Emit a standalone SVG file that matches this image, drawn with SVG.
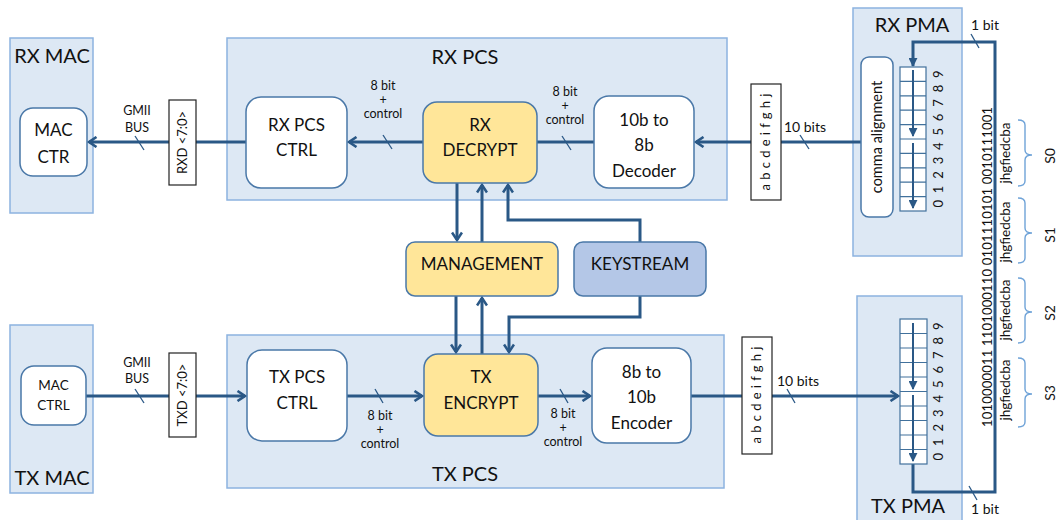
<svg xmlns="http://www.w3.org/2000/svg" width="1062" height="520" viewBox="0 0 1062 520">
  <style>
    text { font-family: Lato, "Open Sans", "Liberation Sans", sans-serif; fill: #111; }
    .panel { fill: #dde8f4; stroke: #8cb3e0; stroke-width: 1.5; }
    .node { fill: #ffffff; stroke: #4a78a8; stroke-width: 1.5; }
    .yellow { fill: #ffe699; stroke: #4a78a8; stroke-width: 1.5; }
    .blue { fill: #b4c7e7; stroke: #4a78a8; stroke-width: 1.5; }
    .tag { fill: #ffffff; stroke: #222; stroke-width: 1.2; }
    .wire { fill: none; stroke: #2a5886; stroke-width: 3; }
    .thin { fill: none; stroke: #2a5886; stroke-width: 2; }
    .slash { stroke: #2a5886; stroke-width: 1.3; }
    .cell { fill: #ffffff; stroke: #41719c; stroke-width: 1.2; }
    .brace { fill: none; stroke: #6fa3d8; stroke-width: 1.4; }
    .title { font-size: 20px; text-anchor: middle; }
    .lbl { font-size: 17px; text-anchor: middle; }
    .small { font-size: 14px; text-anchor: middle; }
    .stack { font-size: 12.5px; text-anchor: middle; }
    .tiny { font-size: 12.5px; text-anchor: middle; }
  </style>
  <defs>
    <marker id="chev" viewBox="0 0 12 12" refX="10" refY="6" markerWidth="12" markerHeight="12" markerUnits="userSpaceOnUse" orient="auto">
      <path d="M2.5,1 L10,6 L2.5,11" fill="none" stroke="#2a5886" stroke-width="2.6"/>
    </marker>
    <marker id="tri" viewBox="0 0 10 10" refX="9" refY="5" markerWidth="9" markerHeight="9" markerUnits="userSpaceOnUse" orient="auto">
      <path d="M0,0 L10,5 L0,10 Z" fill="#2a5886"/>
    </marker>
  </defs>

  <!-- panels -->
  <g id="rx-mac">
    <rect class="panel" x="10" y="38" width="83" height="175"/>
    <text class="title" x="52" y="63">RX MAC</text>
  </g>
  <g id="tx-mac">
    <rect class="panel" x="10" y="325" width="83" height="168"/>
    <text class="title" x="52" y="485">TX MAC</text>
  </g>
  <g id="rx-pcs">
    <rect class="panel" x="227" y="38" width="500" height="162"/>
    <text class="title" x="465" y="64">RX PCS</text>
  </g>
  <g id="tx-pcs">
    <rect class="panel" x="227" y="335" width="497" height="153"/>
    <text class="title" x="465" y="481">TX PCS</text>
  </g>
  <g id="rx-pma">
    <rect class="panel" x="853" y="8" width="109" height="248"/>
    <text class="title" x="912" y="32">RX PMA</text>
  </g>
  <g id="tx-pma">
    <rect class="panel" x="857" y="296" width="105" height="230"/>
    <text class="title" x="908" y="513">TX PMA</text>
  </g>

  <!-- connectors -->
  <g id="connectors">
    <!-- receive path -->
    <line class="wire" x1="861" y1="142" x2="696" y2="142" marker-end="url(#chev)"/>
    <line class="wire" x1="594" y1="142" x2="537" y2="142"/>
    <line class="wire" x1="423" y1="142" x2="349" y2="142" marker-end="url(#chev)"/>
    <line class="wire" x1="246" y1="142" x2="89" y2="142" marker-end="url(#chev)"/>
    <!-- transmit path -->
    <line class="wire" x1="86" y1="396" x2="245" y2="396" marker-end="url(#chev)"/>
    <line class="wire" x1="347" y1="396" x2="422" y2="396" marker-end="url(#chev)"/>
    <line class="wire" x1="538" y1="396" x2="590" y2="396" marker-end="url(#chev)"/>
    <line class="wire" x1="691" y1="396" x2="898" y2="396" marker-end="url(#chev)"/>
    <!-- management / keystream -->
    <line class="wire" x1="457" y1="183" x2="457" y2="240" marker-end="url(#chev)"/>
    <line class="wire" x1="482" y1="242" x2="482" y2="185" marker-end="url(#chev)"/>
    <path class="wire" d="M640,242 V220 H508 V185" marker-end="url(#chev)"/>
    <line class="wire" x1="456" y1="296" x2="456" y2="352" marker-end="url(#chev)"/>
    <line class="wire" x1="482" y1="354" x2="482" y2="298" marker-end="url(#chev)"/>
    <path class="wire" d="M640,296 V317 H509 V352" marker-end="url(#chev)"/>
    <!-- serial loop -->
    <path class="wire" d="M913,464 V492 H995 V42 H913 V66" marker-end="url(#tri)"/>
    <!-- width slashes -->
    <line class="slash" x1="135" y1="136" x2="144" y2="150"/>
    <line class="slash" x1="383" y1="135" x2="392" y2="149"/>
    <line class="slash" x1="562" y1="136" x2="571" y2="150"/>
    <line class="slash" x1="800" y1="135" x2="809" y2="149"/>
    <line class="slash" x1="135" y1="389" x2="144" y2="403"/>
    <line class="slash" x1="375" y1="389" x2="383" y2="403"/>
    <line class="slash" x1="560" y1="389" x2="568" y2="403"/>
    <line class="slash" x1="787" y1="389" x2="795" y2="403"/>
    <line class="slash" x1="971" y1="34" x2="979" y2="48"/>
    <line class="slash" x1="969" y1="486" x2="977" y2="500"/>
  </g>

  <!-- connector labels -->
  <g id="labels">
    <text class="tiny" x="137" y="115">GMII<tspan x="137" dy="17">BUS</tspan></text>
    <text class="tiny" x="137" y="367">GMII<tspan x="137" dy="16">BUS</tspan></text>
    <text class="stack" x="383" y="90">8 bit<tspan x="383" dy="14">+</tspan><tspan x="383" dy="14">control</tspan></text>
    <text class="stack" x="565" y="96">8 bit<tspan x="565" dy="14">+</tspan><tspan x="565" dy="14">control</tspan></text>
    <text class="stack" x="380" y="420">8 bit<tspan x="380" dy="14">+</tspan><tspan x="380" dy="14">control</tspan></text>
    <text class="stack" x="563" y="418">8 bit<tspan x="563" dy="14">+</tspan><tspan x="563" dy="14">control</tspan></text>
    <text class="small" x="805" y="132">10 bits</text>
    <text class="small" x="798" y="386">10 bits</text>
    <text class="small" x="985" y="30">1 bit</text>
    <text class="small" x="985" y="514">1 bit</text>
  </g>

  <!-- bus tags -->
  <g id="rxd-tag">
    <rect class="tag" x="169" y="100" width="27" height="85"/>
    <text font-size="13" text-anchor="middle" transform="translate(187,142.5) rotate(-90)">RXD &lt;7:0&gt;</text>
  </g>
  <g id="txd-tag">
    <rect class="tag" x="169" y="353" width="27" height="84"/>
    <text font-size="13" text-anchor="middle" transform="translate(187,395) rotate(-90)">TXD &lt;7:0&gt;</text>
  </g>
  <g id="rx-symbol-tag">
    <rect class="tag" x="751" y="84" width="30" height="116"/>
    <text font-size="13" text-anchor="middle" textLength="97" lengthAdjust="spacing" transform="translate(770,142) rotate(-90)">a b c d e i f g h j</text>
  </g>
  <g id="tx-symbol-tag">
    <rect class="tag" x="742" y="337" width="30" height="117"/>
    <text font-size="13" text-anchor="middle" textLength="97" lengthAdjust="spacing" transform="translate(761,395) rotate(-90)">a b c d e i f g h j</text>
  </g>

  <!-- nodes -->
  <g id="mac-ctr">
    <rect class="node" x="20" y="108" width="67" height="68" rx="13"/>
    <text class="lbl" x="53.5" y="136">MAC<tspan x="53.5" dy="27">CTR</tspan></text>
  </g>
  <g id="mac-ctrl">
    <rect class="node" x="21" y="366" width="65" height="59" rx="13"/>
    <text font-size="13.5" text-anchor="middle" x="53.5" y="390">MAC<tspan x="53.5" dy="20">CTRL</tspan></text>
  </g>
  <g id="rx-pcs-ctrl">
    <rect class="node" x="246" y="97" width="101" height="91" rx="15"/>
    <text class="lbl" x="296.5" y="131">RX PCS<tspan x="296.5" dy="25">CTRL</tspan></text>
  </g>
  <g id="rx-decrypt">
    <rect class="yellow" x="423" y="102" width="114" height="81" rx="14"/>
    <text class="lbl" x="480" y="131">RX<tspan x="480" dy="25">DECRYPT</tspan></text>
  </g>
  <g id="decoder">
    <rect class="node" x="594" y="96" width="100" height="92" rx="15"/>
    <text class="lbl" x="644" y="126">10b to<tspan x="644" dy="25">8b</tspan><tspan x="644" dy="26">Decoder</tspan></text>
  </g>
  <g id="tx-pcs-ctrl">
    <rect class="node" x="247" y="350" width="100" height="91" rx="15"/>
    <text class="lbl" x="297" y="383">TX PCS<tspan x="297" dy="26">CTRL</tspan></text>
  </g>
  <g id="tx-encrypt">
    <rect class="yellow" x="424" y="354" width="114" height="82" rx="14"/>
    <text class="lbl" x="481" y="383">TX<tspan x="481" dy="26">ENCRYPT</tspan></text>
  </g>
  <g id="encoder">
    <rect class="node" x="592" y="348" width="99" height="95" rx="15"/>
    <text class="lbl" x="641.5" y="378">8b to<tspan x="641.5" dy="25">10b</tspan><tspan x="641.5" dy="26">Encoder</tspan></text>
  </g>
  <g id="management">
    <rect class="yellow" x="406" y="242" width="152" height="54" rx="9"/>
    <text class="lbl" x="482" y="270">MANAGEMENT</text>
  </g>
  <g id="keystream">
    <rect class="blue" x="574" y="242" width="132" height="54" rx="9"/>
    <text class="lbl" x="640" y="270">KEYSTREAM</text>
  </g>
  <g id="comma-alignment">
    <rect class="node" x="861" y="57" width="32" height="160" rx="8"/>
    <text font-size="14.5" text-anchor="middle" transform="translate(882,137) rotate(-90)">comma alignment</text>
  </g>

  <!-- receive shift register, bit 9 at top -->
  <g id="rx-register">
    <rect class="cell" x="900" y="67" width="26" height="144"/>
    <path class="cell" d="M900,81.4 H926 M900,95.8 H926 M900,110.2 H926 M900,124.6 H926 M900,139 H926 M900,153.4 H926 M900,167.8 H926 M900,182.2 H926 M900,196.6 H926"/>
    <line class="thin" x1="913" y1="70" x2="913" y2="136" marker-end="url(#tri)"/>
    <line class="thin" x1="913" y1="143" x2="913" y2="208" marker-end="url(#tri)"/>
    <g font-size="13" text-anchor="middle">
      <text transform="translate(943,74.2) rotate(-90)">9</text>
      <text transform="translate(943,88.6) rotate(-90)">8</text>
      <text transform="translate(943,103) rotate(-90)">7</text>
      <text transform="translate(943,117.4) rotate(-90)">6</text>
      <text transform="translate(943,131.8) rotate(-90)">5</text>
      <text transform="translate(943,146.2) rotate(-90)">4</text>
      <text transform="translate(943,160.6) rotate(-90)">3</text>
      <text transform="translate(943,175) rotate(-90)">2</text>
      <text transform="translate(943,189.4) rotate(-90)">1</text>
      <text transform="translate(943,203.8) rotate(-90)">0</text>
    </g>
  </g>

  <!-- transmit shift register, bit 9 at top -->
  <g id="tx-register">
    <rect class="cell" x="900" y="319" width="27" height="145"/>
    <path class="cell" d="M900,333.5 H927 M900,348 H927 M900,362.5 H927 M900,377 H927 M900,391.5 H927 M900,406 H927 M900,420.5 H927 M900,435 H927 M900,449.5 H927"/>
    <line class="thin" x1="913" y1="323" x2="913" y2="389" marker-end="url(#tri)"/>
    <line class="thin" x1="913" y1="395" x2="913" y2="461" marker-end="url(#tri)"/>
    <g font-size="13" text-anchor="middle">
      <text transform="translate(943,326.3) rotate(-90)">9</text>
      <text transform="translate(943,340.8) rotate(-90)">8</text>
      <text transform="translate(943,355.3) rotate(-90)">7</text>
      <text transform="translate(943,369.8) rotate(-90)">6</text>
      <text transform="translate(943,384.3) rotate(-90)">5</text>
      <text transform="translate(943,398.8) rotate(-90)">4</text>
      <text transform="translate(943,413.3) rotate(-90)">3</text>
      <text transform="translate(943,427.8) rotate(-90)">2</text>
      <text transform="translate(943,442.3) rotate(-90)">1</text>
      <text transform="translate(943,456.8) rotate(-90)">0</text>
    </g>
  </g>

  <!-- serial bit stream and symbol grouping -->
  <g id="bitstream">
    <text font-size="13" text-anchor="middle" textLength="320" lengthAdjust="spacing" transform="translate(992,267) rotate(-90)">1010000011 1101000110 0101110101 0010111001</text>
    <g font-size="13.5" text-anchor="middle">
      <text transform="translate(1010,153) rotate(-90)">jhgfiedcba</text>
      <text transform="translate(1010,232) rotate(-90)">jhgfiedcba</text>
      <text transform="translate(1010,310) rotate(-90)">jhgfiedcba</text>
      <text transform="translate(1010,390) rotate(-90)">jhgfiedcba</text>
    </g>
    <path class="brace" d="M1018,120 Q1025,120 1025,125 V150 Q1025,155 1032,155 Q1025,155 1025,160 V181 Q1025,186 1018,186"/>
    <path class="brace" d="M1018,198 Q1025,198 1025,203 V228 Q1025,233 1032,233 Q1025,233 1025,238 V258 Q1025,263 1018,263"/>
    <path class="brace" d="M1018,278 Q1025,278 1025,283 V307 Q1025,312 1032,312 Q1025,312 1025,317 V338 Q1025,343 1018,343"/>
    <path class="brace" d="M1018,358 Q1025,358 1025,363 V389 Q1025,394 1032,394 Q1025,394 1025,399 V422 Q1025,427 1018,427"/>
    <g font-size="14" text-anchor="middle">
      <text transform="translate(1055,156) rotate(-90)">S0</text>
      <text transform="translate(1055,235) rotate(-90)">S1</text>
      <text transform="translate(1055,313) rotate(-90)">S2</text>
      <text transform="translate(1055,393) rotate(-90)">S3</text>
    </g>
  </g>
</svg>
